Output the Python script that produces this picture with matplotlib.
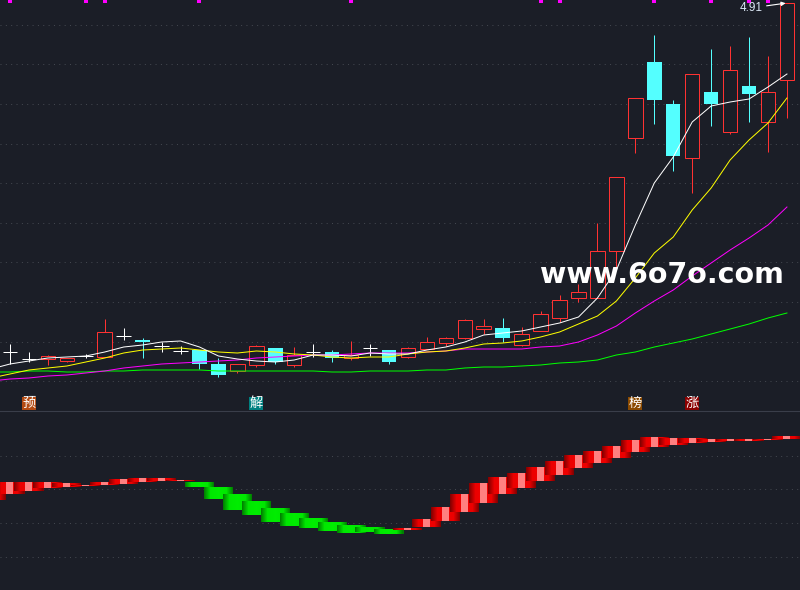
import numpy as np
import matplotlib
matplotlib.use('Agg')
import matplotlib.pyplot as plt

# upper pane values are levels above the pane floor, there is no price axis to read
opens = [59, 52, 52, 50, 55, 54, 75, 71, 65, 60, 61, 47, 40, 46, 63, 46, 59, 59, 53, 63, 61,
	54, 62, 68, 73, 82, 83, 66, 80, 93, 113, 113, 160, 273, 349, 307, 253, 319, 279, 325, 289, 331]
closes = [59, 52, 55, 53, 55, 79, 75, 69, 65, 60, 47, 36, 47, 65, 49, 56, 59, 53, 56, 63, 49,
	63, 69, 73, 91, 85, 73, 77, 97, 111, 119, 160, 234, 313, 311, 255, 337, 307, 341, 317, 319, 408]
highs = [67, 59, 56, 53, 57, 92, 83, 73, 69, 65, 61, 53, 47, 66, 63, 64, 67, 61, 70, 67, 61,
	64, 74, 74, 92, 92, 93, 84, 100, 116, 127, 188, 234, 313, 376, 311, 337, 362, 365, 374, 355, 408]
lows = [47, 49, 46, 49, 53, 54, 71, 53, 59, 57, 42, 34, 38, 44, 47, 44, 54, 49, 51, 55, 47,
	53, 62, 65, 72, 77, 69, 65, 80, 89, 109, 113, 144, 258, 287, 240, 218, 285, 277, 289, 259, 293]

# moving averages start one day before the first visible candle
ma5 = [42, 47, 50, 53, 54, 55, 59, 64, 66, 69, 70, 64, 55, 52, 50, 49, 51, 56, 56, 55, 58,
	57, 57, 61, 64, 69, 76, 78, 80, 84, 88, 94, 113, 141, 186, 228, 254, 289, 305, 309, 312, 324, 337]
ma10 = [33, 37, 41, 43, 45, 49, 53, 58, 61, 62, 63, 61, 59, 58, 60, 59, 57, 56, 54, 53, 54,
	54, 57, 59, 60, 63, 67, 68, 70, 74, 79, 87, 95, 110, 133, 158, 174, 201, 223, 251, 271, 288, 313]
ma20 = [30, 32, 33, 35, 36, 38, 40, 43, 45, 47, 48, 49, 50, 51, 53, 54, 55, 56, 56, 57, 58,
	58, 58, 59, 60, 62, 62, 62, 62, 64, 65, 69, 76, 85, 98, 110, 121, 135, 148, 161, 173, 186, 204]
ma60 = [39, 39, 40, 40, 39, 39, 40, 40, 41, 41, 41, 41, 40, 40, 40, 40, 40, 40, 39, 39, 40,
	40, 40, 41, 41, 43, 44, 44, 45, 46, 48, 49, 51, 56, 59, 64, 68, 72, 77, 82, 87, 93, 98]

osc_top = [106, 108, 108, 108, 107, 105, 108, 111, 112, 112, 110, 108, 103, 96, 89, 82, 77, 72, 68, 65, 63,
	61, 62, 71, 83, 96, 107, 113, 117, 123, 129, 135, 139, 144, 150, 153, 152, 152, 151, 151, 151, 151, 154]
osc_bot = [90, 96, 99, 102, 103, 104, 105, 106, 108, 109, 109, 103, 91, 80, 75, 68, 64, 62, 59, 57, 58,
	56, 60, 63, 69, 78, 87, 96, 102, 109, 115, 122, 127, 132, 138, 143, 145, 147, 148, 149, 149, 150, 151]
osc_green_days = [10, 11, 12, 13, 14, 15, 16, 17, 18, 19, 20]

top_mark_days = [0, 4, 5, 10, 18, 28, 29, 34, 37, 39, 40]
flag_days = [1, 13, 33, 36]
flag_labels = ['预', '解', '榜', '涨']
flag_colors = ['#b34a12', '#008080', '#8b4a00', '#8b0000']
grid_upper = [386, 347, 307, 267, 228, 188, 149, 109, 69, 30]
grid_lower = [134, 101, 67, 33]

BG = '#1b1e27'
GRID = '#464a52'
RED = '#ff3232'
CYAN = '#54ffff'
STEP = 18.95  # pixels per day
THIN = 0.72   # one pixel


def style_pane(ax, grid, ymax):
	ax.set_facecolor(BG)
	ax.set_xlim(-10 / STEP, 790 / STEP)
	ax.set_ylim(0, ymax)
	ax.set_xticks([])
	ax.set_yticks(grid)
	ax.tick_params(length=0, labelleft=False)
	ax.grid(axis='y', color=GRID, linewidth=0.7, linestyle=(0, (1, 4.5)))
	ax.set_axisbelow(True)
	for spine in ax.spines.values():
		spine.set_visible(False)


fig = plt.figure(figsize=(8, 5.9), dpi=100, facecolor=BG)
ax = fig.add_axes([0, 179 / 590, 1, 411 / 590])
ax2 = fig.add_axes([0, 0, 1, 179 / 590])
style_pane(ax, grid_upper, 411)
style_pane(ax2, grid_lower, 179)
ax2.spines['top'].set_visible(True)
ax2.spines['top'].set_color('#3a3e4a')

### Candles ###
days = np.arange(len(opens))
o = np.array(opens)
c = np.array(closes)
h = np.array(highs)
l = np.array(lows)
up = c > o
down = c < o
flat = c == o
body_w = 14.5 / STEP

ax.vlines(days[up], l[up], h[up], colors=RED, linewidth=THIN, snap=True, zorder=2)
ax.vlines(days[down], l[down], h[down], colors=CYAN, linewidth=THIN, snap=True, zorder=2)
ax.vlines(days[flat], l[flat], h[flat], colors='white', linewidth=THIN, snap=True, zorder=2)
ax.hlines(o[flat], days[flat] - body_w / 2, days[flat] + body_w / 2, colors='white',
	linewidth=THIN, snap=True, zorder=2)
ax.bar(days[up], (c - o)[up], bottom=o[up], width=body_w, facecolor=BG, edgecolor=RED,
	linewidth=THIN, zorder=3)
ax.bar(days[down], (o - c)[down], bottom=c[down], width=body_w, color=CYAN, zorder=3)

### Moving averages ###
ma_days = np.arange(-1, len(opens))
ax.plot(ma_days, ma60, color='#00ff00', linewidth=THIN, zorder=4)
ax.plot(ma_days, ma20, color='#ff00ff', linewidth=THIN, zorder=4)
ax.plot(ma_days, ma10, color='#ffff00', linewidth=THIN, zorder=5)
ax.plot(ma_days, ma5, color='white', linewidth=THIN, zorder=6)

### Marks ###
ax.plot(top_mark_days, [410] * len(top_mark_days), 's', color='#ff00ff', markersize=2.2,
	markeredgewidth=0, zorder=7)
ax.annotate('4.91', xy=(days[-1], h[-1]), xytext=(39.1, 403), color='#dbe8f5', fontsize=8.5,
	family='Liberation Sans', ha='center', va='center', zorder=8,
	arrowprops=dict(arrowstyle='-|>', color='white', linewidth=0.8, mutation_scale=6,
		shrinkA=1, shrinkB=1))
for day, label, color in zip(flag_days, flag_labels, flag_colors):
	ax.text(day, 7.5, label, color='white', fontsize=9.5, ha='center', va='center',
		family=['Noto Sans CJK SC', 'DejaVu Sans'], zorder=8,
		bbox=dict(facecolor=color, edgecolor='none', pad=0.2))

### Oscillator, later days paint over earlier ones ###
offsets = np.arange(-14, 15)  # one slice per pixel
shade = np.interp(np.abs(offsets), [0, 8, 14], [1, 0.97, 0.55])
for day, top, bot in zip(ma_days, osc_top, osc_bot):
	for off, s in zip(offsets, shade):
		if day in osc_green_days:
			color = (0, 0.93 * s, 0)
		elif abs(off) <= 3:
			color = '#ff8080'
		else:
			color = (0.95 * s, 0, 0)
		ax2.bar(day + off / STEP, top - bot, bottom=bot, width=1.1 / STEP, color=color,
			linewidth=0, antialiased=False, zorder=3)

fig.text(662 / 800, 1 - 275 / 590, 'www.6o7o.com', color='white', fontsize=20.5, fontweight='bold',
	ha='center', va='center', zorder=10)

fig.savefig('out.png', dpi=100, facecolor=BG)
